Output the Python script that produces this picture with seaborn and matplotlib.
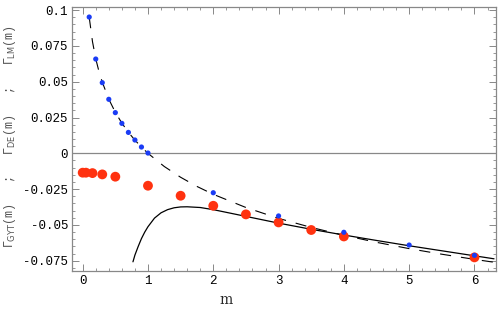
import matplotlib
matplotlib.use("Agg")
import matplotlib.pyplot as plt
import seaborn as sns
import pandas as pd
from matplotlib.ticker import MultipleLocator

# Blue points (Gamma_LM)
lm_m = [0.1, 0.2, 0.3, 0.4, 0.5, 0.6, 0.7, 0.8, 0.9, 1.0, 2.0, 3.0, 4.0, 5.0, 6.0]
lm_v = [0.0951, 0.0658, 0.0493, 0.0377, 0.0284, 0.0209, 0.0146, 0.0093, 0.0044, 0.0002,
        -0.0275, -0.0437, -0.0551, -0.0640, -0.0712]

# Red points (Gamma_GYT)
gyt_m = [0.0, 0.05, 0.15, 0.3, 0.5, 1.0, 1.5, 2.0, 2.5, 3.0, 3.5, 4.0, 6.0]
gyt_v = [-0.0135, -0.0135, -0.0138, -0.0147, -0.0163, -0.0226, -0.0296, -0.0366,
         -0.0426, -0.0482, -0.0535, -0.0580, -0.0726]

# Dashed curve
dash_m = [0.1, 0.15, 0.2, 0.25, 0.3, 0.4, 0.5, 0.6, 0.7, 0.8, 0.9, 1.0, 1.25, 1.5, 1.75,
          2.0, 2.5, 3.0, 3.5, 4.0, 4.5, 5.0, 5.5, 6.0, 6.3]
dash_v = [0.095, 0.078, 0.066, 0.057, 0.0497, 0.0378, 0.0286, 0.0211, 0.0147, 0.0092,
          0.0044, 0.0, -0.0092, -0.0167, -0.0231, -0.0286, -0.0378, -0.0454, -0.0517,
          -0.0572, -0.0621, -0.0665, -0.0704, -0.074, -0.076]

# Solid curve
solid_m = [0.77, 0.8, 0.85, 0.9, 0.95, 1.0, 1.1, 1.2, 1.3, 1.4, 1.5, 1.6, 1.8, 2.0, 2.5,
           3.0, 3.5, 4.0, 4.5, 5.0, 5.5, 6.0, 6.3]
solid_v = [-0.0757, -0.0710, -0.0650, -0.0595, -0.0550, -0.0512, -0.0452, -0.0415,
           -0.0393, -0.0380, -0.0374, -0.0373, -0.0378, -0.0393, -0.0440, -0.0487,
           -0.0530, -0.0570, -0.0608, -0.0645, -0.0680, -0.0715, -0.0736]

x_ticks = [0, 1, 2, 3, 4, 5, 6]
y_ticks = [-0.075, -0.05, -0.025, 0, 0.025, 0.05, 0.075, 0.1]
y_tick_labels = ["-0.075", "-0.05", "-0.025", "0", "0.025", "0.05", "0.075", "0.1"]

sns.set_theme(style="white")
plt.rcParams["font.family"] = ["Liberation Mono", "DejaVu Sans"]
plt.rcParams["mathtext.fontset"] = "dejavusans"

fig = plt.figure(figsize=(4.98, 3.09), dpi=100)
ax = fig.add_axes([72.3 / 498, 1 - 270.7 / 309, (496 - 72.3) / 498, (270.7 - 7.3) / 309])

ax.axhline(0, color="#888888", lw=0.9, zorder=1)

sns.lineplot(data=pd.DataFrame({"m": dash_m, "v": dash_v}), x="m", y="v", sort=False,
             color="black", lw=0.8, ax=ax, zorder=2)
ax.lines[-1].set_dashes([10, 9])
sns.lineplot(data=pd.DataFrame({"m": solid_m, "v": solid_v}), x="m", y="v", sort=False,
             color="black", lw=0.9, ax=ax, zorder=2)

sns.scatterplot(data=pd.DataFrame({"m": gyt_m, "v": gyt_v}), x="m", y="v",
                color="#ff3210", s=50, edgecolor="none", ax=ax, zorder=3)
sns.scatterplot(data=pd.DataFrame({"m": lm_m, "v": lm_v}), x="m", y="v",
                color="#1a3cf5", s=14, edgecolor="none", ax=ax, zorder=4)

ax.set_xlim(-0.159, 6.33)
ax.set_ylim(-0.0819, 0.1019)
ax.set_xticks(x_ticks)
ax.set_xticklabels([str(t) for t in x_ticks])
ax.set_yticks(y_ticks)
ax.set_yticklabels(y_tick_labels)
ax.xaxis.set_minor_locator(MultipleLocator(0.2))
ax.yaxis.set_minor_locator(MultipleLocator(0.005))

for s in ax.spines.values():
    s.set_color("#888888")
    s.set_linewidth(0.9)

ax.tick_params(which="major", direction="in", length=5, width=0.7, color="#888888",
               labelsize=9, top=True, right=True, bottom=True, left=True,
               labeltop=False, labelright=False, pad=3, labelcolor="black")
ax.tick_params(which="minor", direction="in", length=2.5, width=0.6, color="#888888",
               top=True, right=True, bottom=True, left=True)

ax.set_xlabel("m", fontsize=10, family=["DejaVu Serif"])
ax.xaxis.set_label_coords(0.363, -0.085)
ax.set_ylabel(r"$\Gamma_{\mathrm{GYT}}$(m)   ;   $\Gamma_{\mathrm{DE}}$(m)   ;   $\Gamma_{\mathrm{LM}}$(m)",
              fontsize=8.5, color="#555555")
ax.yaxis.set_label_coords(-0.128, 0.51)

fig.savefig("out.png", dpi=100)
